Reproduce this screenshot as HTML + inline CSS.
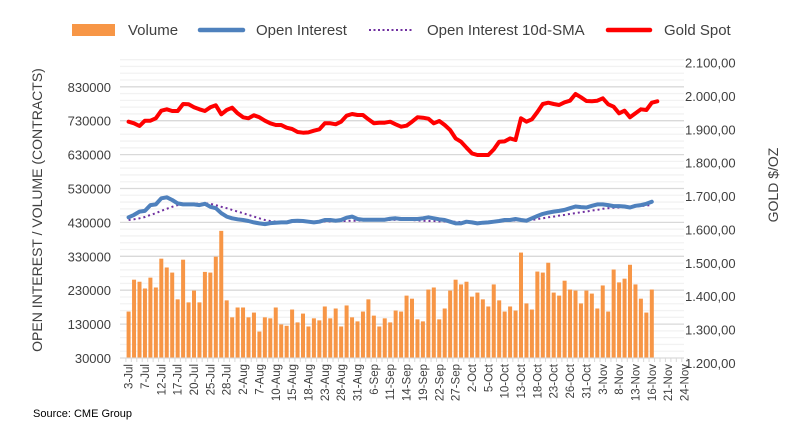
<!DOCTYPE html>
<html><head><meta charset="utf-8">
<style>
body{margin:0;background:#fff;}
svg{display:block;font-family:"Liberation Sans",sans-serif;}
</style></head>
<body>
<svg id="chart" width="804" height="448" viewBox="0 0 804 448" xmlns="http://www.w3.org/2000/svg">
<g id="grid"></g>
<g id="bars"></g>
<g id="lines"></g>
<g id="axes"></g>
<g id="legend">
  <g>
    <rect x="72" y="24" width="43" height="12" fill="#F79646"></rect>
    <text x="128" y="35" font-size="15" fill="#404040">Volume</text>
  </g>
  <g>
    <line x1="200" y1="30" x2="243" y2="30" stroke="#4F81BD" stroke-width="4.5" stroke-linecap="round"></line>
    <text x="256" y="35" font-size="15" fill="#404040">Open Interest</text>
  </g>
  <g>
    <line x1="369" y1="30" x2="412" y2="30" stroke="#7030A0" stroke-width="2" stroke-dasharray="2,2.5"></line>
    <text x="427" y="35" font-size="15" fill="#404040">Open Interest 10d-SMA</text>
  </g>
  <g>
    <line x1="608" y1="30" x2="650" y2="30" stroke="#FF0000" stroke-width="4.5" stroke-linecap="round"></line>
    <text x="664" y="35" font-size="15" fill="#404040">Gold Spot</text>
  </g>
</g>
<text x="42" y="210" font-size="14" fill="#404040" text-anchor="middle" transform="rotate(-90 42 210)">OPEN INTEREST / VOLUME (CONTRACTS)</text>
<text x="778" y="185" font-size="14" fill="#404040" text-anchor="middle" transform="rotate(-90 778 185)">GOLD $/OZ</text>
<text x="33" y="417" font-size="11" fill="#000">Source: CME Group</text>
</svg>
<script>
const xLabels = ["3-Jul","7-Jul","12-Jul","17-Jul","20-Jul","25-Jul","28-Jul","2-Aug","7-Aug","10-Aug","15-Aug","18-Aug","23-Aug","28-Aug","31-Aug","6-Sep","11-Sep","14-Sep","19-Sep","22-Sep","27-Sep","2-Oct","5-Oct","10-Oct","13-Oct","18-Oct","23-Oct","26-Oct","31-Oct","3-Nov","8-Nov","13-Nov","16-Nov","21-Nov","24-Nov"];
const leftTicks = [30000,130000,230000,330000,430000,530000,630000,730000,830000];
const rightTicks = ["1.200,00","1.300,00","1.400,00","1.500,00","1.600,00","1.700,00","1.800,00","1.900,00","2.000,00","2.100,00"];
const rightTickValues = [1200,1300,1400,1500,1600,1700,1800,1900,2000,2100];
const volume = [167,261,255,235,267,238,323,297,282,203,320,194,229,194,284,282,329,405,200,150,179,179,150,164,108,150,147,179,129,125,173,135,161,123,147,141,182,147,176,123,185,150,138,167,203,155,123,147,135,170,167,214,205,144,138,232,238,144,176,229,261,247,255,211,223,203,182,247,200,167,182,170,341,191,173,285,282,311,223,214,258,232,229,191,229,220,176,244,167,291,253,264,305,247,205,164,232].map(v=>v*1000);
const openInterest = [445,452,462,464,481,483,501,504,496,486,483,483,483,481,485,476,472,457,447,442,439,437,434,430,427,425,428,429,430,430,434,435,434,432,430,432,437,437,435,437,444,447,440,438,438,438,438,438,441,442,440,440,440,440,442,445,442,439,437,432,427,427,432,430,427,429,430,432,434,437,437,440,437,435,442,449,455,459,462,464,467,472,477,475,474,479,483,483,481,478,478,477,474,479,481,485,491].map(v=>v*1000);
const oiSMA = [437,439,442,446,452,457,464,470,476,481,483,484,485,485,486,485,481,476,472,467,462,457,452,447,442,437,434,432,432,432,432,432,432,432,432,432,433,433,433,434,434,435,435,436,436,436,437,437,437,438,438,438,437,436,435,434,434,433,433,432,432,431,431,430,430,430,431,432,433,434,435,436,436,437,437,440,442,445,447,450,452,455,457,460,462,465,467,470,472,473,474,475,476,477,478,480,481].map(v=>v*1000);
const goldSpot = [1923,1918,1910,1926,1926,1933,1956,1960,1955,1955,1976,1975,1966,1960,1955,1966,1972,1945,1958,1965,1948,1936,1933,1942,1936,1926,1918,1913,1913,1905,1901,1892,1890,1891,1896,1900,1918,1918,1915,1923,1941,1946,1943,1943,1930,1918,1920,1920,1923,1915,1908,1911,1923,1936,1935,1932,1918,1925,1913,1898,1873,1863,1845,1828,1823,1823,1823,1840,1863,1864,1873,1868,1933,1923,1930,1952,1976,1980,1976,1973,1981,1986,2006,1996,1985,1984,1986,1993,1975,1968,1948,1956,1936,1948,1960,1958,1980,1984];

const NS="http://www.w3.org/2000/svg";
const X0=128.6, DX=5.45, YB=358, PL=120, PR=684;
function xAt(i){return X0+DX*i;}
function yLeft(v){return YB-(v-30000)/100000*33.9;}
function yRight(g){return 96+(2000-g)*0.3335;}
function mk(tag,attrs,parent){const e=document.createElementNS(NS,tag);for(const k in attrs)e.setAttribute(k,attrs[k]);parent.appendChild(e);return e;}

const grid=document.getElementById('grid');
for(let v=30000; v<=910000; v+=20000){
  const major=((v-30000)%100000)===0;
  const g=mk('line',{x1:PL,x2:PR,y1:yLeft(v),y2:yLeft(v),stroke:major?'#d9d9d9':'#f2f2f2','stroke-width':1.3},grid);
  
  
}
const bars=document.getElementById('bars');
volume.forEach((v,i)=>{
  const r=mk('rect',{x:xAt(i)-2,y:yLeft(v),width:4,height:YB-yLeft(v),fill:'#F79646'},bars);
  
  
});
const lines=document.getElementById('lines');
function pts(arr,f){return arr.map((v,i)=>xAt(i).toFixed(1)+','+f(v).toFixed(1)).join(' ');}
const sma=mk('polyline',{points:pts(oiSMA,yLeft),fill:'none',stroke:'#7030A0','stroke-width':2,'stroke-dasharray':'2,3'},lines);


const oi=mk('polyline',{points:pts(openInterest,yLeft),fill:'none',stroke:'#4F81BD','stroke-width':4,'stroke-linejoin':'round','stroke-linecap':'round'},lines);


const gold=mk('polyline',{points:pts(goldSpot,yRight),fill:'none',stroke:'#FF0000','stroke-width':4,'stroke-linejoin':'round','stroke-linecap':'round'},lines);



const axes=document.getElementById('axes');
const ax=mk('line',{x1:PL,x2:PR,y1:YB,y2:YB,stroke:'#d9d9d9','stroke-width':1},axes);


for(let i=0;i<=103;i++){
  const t=mk('line',{x1:xAt(i)-DX/2,x2:xAt(i)-DX/2,y1:YB,y2:YB+4,stroke:'#d9d9d9','stroke-width':1},axes);
  
  
}
xLabels.forEach((s,k)=>{
  const x=xAt(k*3)+4, y=364;
  const t=mk('text',{x:x,y:y,'font-size':11.5,fill:'#404040','text-anchor':'end',transform:`rotate(-90 ${x} ${y})`},axes);
  t.textContent=s;
  
  
});
leftTicks.forEach(v=>{
  const t=mk('text',{x:111,y:yLeft(v)+5,'font-size':13,fill:'#404040','text-anchor':'end'},axes);
  t.textContent=String(v);
  
  
});
rightTicks.forEach((s,k)=>{
  const t=mk('text',{x:685,y:yRight(rightTickValues[k])+5,'font-size':13,fill:'#404040'},axes);
  t.textContent=s;
  
  
});
</script>
</body></html>
